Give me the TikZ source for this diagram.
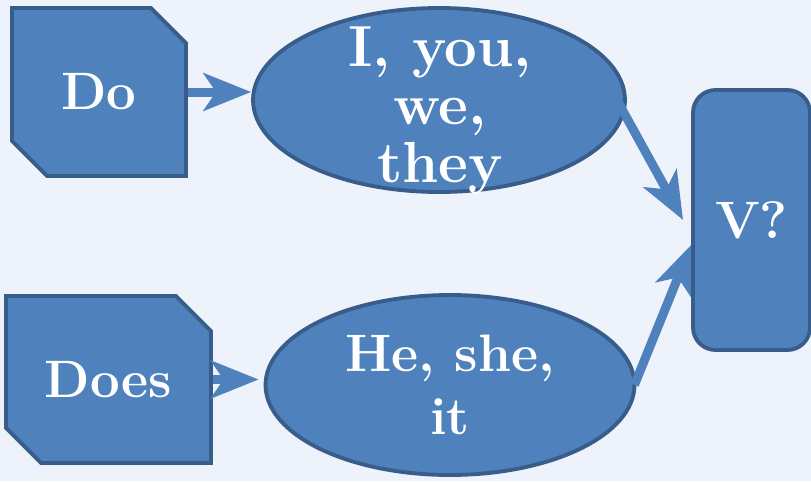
\documentclass[tikz,border=0pt]{standalone}
\usepackage{fontspec}
\usepackage{tikz}
\usetikzlibrary{shapes.geometric, shapes.misc, arrows.meta, positioning}
\definecolor{boxblue}{HTML}{4F81BD}
\definecolor{boxedge}{HTML}{385D8A}
\definecolor{paper}{HTML}{EEF2FA}
\tikzstyle{fatarrow} = [boxblue, line width=0.18cm, -{Stealth[length=0.95cm, width=0.75cm, inset=0.25cm]}]

\begin{document}
\begin{tikzpicture}[x=0.02cm, y=-0.02cm,
    every node/.style={text=white, font=\bfseries\fontsize{30}{36}\selectfont},
    cutbox/.style={chamfered rectangle, chamfered rectangle corners={north east, south west},
      chamfered rectangle xsep=0.35cm, chamfered rectangle ysep=0.35cm,
      draw=boxedge, line width=2.2pt, fill=boxblue, inner sep=0pt},
    bubble/.style={ellipse, draw=boxedge, line width=2.2pt, fill=boxblue, inner sep=0pt, align=center},
    verbbox/.style={rectangle, rounded corners=0.45cm, draw=boxedge, line width=2.2pt, fill=boxblue,
      minimum width=2.34cm, minimum height=5.2cm}]

\useasboundingbox (0,0) rectangle (811,481);
\fill[paper] (0,0) rectangle (811,481);

% Auxiliaries
\node[cutbox, minimum width=3.48cm, minimum height=3.36cm] (do) at (99,92) {Do};
\node[cutbox, minimum width=4.1cm, minimum height=3.34cm] (does) at (108.5,379.5) {Does};

% Subjects
\node[bubble, minimum width=7.44cm, minimum height=3.68cm] (ellI) at (439,100) {};
\node[align=center, font=\bfseries\fontsize{33}{33}\selectfont] (ellIwords) at (440,110) {I, you,\\ we,\\ they};
\node[bubble, minimum width=7.38cm, minimum height=3.6cm] (ellHe) at (450,385) {He, she,\\ it};

% Verb
\node[verbbox] (verb) at (751.5,220) {V?};

% Arrows
\draw[fatarrow] (do.east) -- (do.east -| ellI.west);
\draw[fatarrow] (does.east) -- ([xshift=-0.1cm]does.east -| ellHe.west);
\draw[fatarrow] ([xshift=-0.2cm]ellI.east) -- ([xshift=-0.16cm]verb.west);
\draw[fatarrow] ([xshift=-0.04cm]ellHe.east) -- ([yshift=-0.5cm]verb.west);

\end{tikzpicture}
\end{document}
